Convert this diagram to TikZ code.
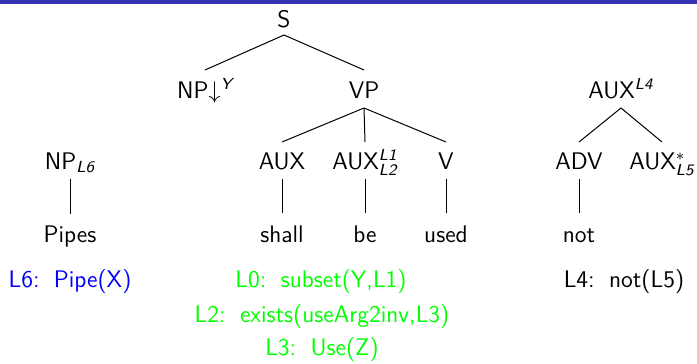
\documentclass[tikz,border=0pt]{standalone}
\usepackage{amsmath}
\definecolor{barblue}{RGB}{51,51,179}
\definecolor{semblue}{RGB}{0,0,255}
\definecolor{semgreen}{RGB}{0,255,0}
\newcommand{\tagit}[1]{\textit{#1}}
\begin{document}
\begin{tikzpicture}[x=0.5pt,y=-0.5pt,
  every node/.style={inner sep=0pt, anchor=base, font=\sffamily\fontsize{12}{14}\selectfont},
  branch/.style={line width=0.5pt, black},
  sem/.style={anchor=base}]
\useasboundingbox (0,0) rectangle (697,364);
\fill[barblue] (0,0) rectangle (697,4);

% elementary tree for "Pipes"
\node (NPl) at (70,169) {NP$_{\tagit{L6}}$};
\node (pipes) at (70,242) {Pipes};
\draw[branch] ([yshift=-5pt]NPl.base) -- ([yshift=14pt]pipes.base);

% elementary tree for "shall be used"
\node (S) at (284,27) {S};
\node (NPy) at (205,98) {NP$\downarrow^{\tagit{Y}}$};
\node (VP) at (364,98) {VP};
\node (AUXa) at (282,169) {AUX};
\node (AUXb) at (365,169) {AUX$^{\tagit{L1}}_{\tagit{L2}}$};
\node (V) at (446,169) {V};
\node (shall) at (282,242) {shall};
\node (be) at (365,242) {be};
\node (used) at (446,242) {used};
\draw[branch] ([yshift=-4pt]S.base) -- ([yshift=14pt]NPy.base);
\draw[branch] ([yshift=-4pt]S.base) -- ([yshift=14pt]VP.base);
\draw[branch] ([yshift=-5pt]VP.base) -- ([yshift=13.5pt]AUXa.base);
\draw[branch] ([yshift=-5pt]VP.base) -- ([yshift=13.5pt]AUXb.base);
\draw[branch] ([yshift=-5pt]VP.base) -- ([yshift=13.5pt]V.base);
\draw[branch] ([yshift=-5pt]AUXa.base) -- ([yshift=14.5pt]shall.base);
\draw[branch] ([yshift=-5pt]AUXb.base) -- ([yshift=14.5pt]be.base);
\draw[branch] ([yshift=-5pt]V.base) -- ([yshift=14.5pt]used.base);

% auxiliary tree for "not"
\node (AUXt) at (621,98) {AUX$^{\tagit{L4}}$};
\node (ADV) at (579,169) {ADV};
\node (AUXs) at (662,169) {AUX$^{*}_{\tagit{L5}}$};
\node (not) at (579,242) {not};
\draw[branch] ([yshift=-5pt]AUXt.base) -- ([yshift=13.5pt]ADV.base);
\draw[branch] ([yshift=-5pt]AUXt.base) -- ([yshift=13.5pt]AUXs.base);
\draw[branch] ([yshift=-5pt]ADV.base) -- ([yshift=14.5pt]not.base);

% semantic formulas
\node[text=semblue] (semL6) at (70,287) {L6:\hspace{0.6em}Pipe(X)};
\node[text=semgreen] (semL0) at (321,287) {L0:\hspace{0.6em}subset(Y,L1)};
\node[text=semgreen] (semL2) at (322,322) {L2:\hspace{0.6em}exists(useArg2inv,L3)};
\node[text=semgreen] (semL3) at (322,355) {L3:\hspace{0.6em}Use(Z)};
\node[text=black] (semL4) at (624,287) {L4:\hspace{0.6em}not(L5)};
\end{tikzpicture}
\end{document}
